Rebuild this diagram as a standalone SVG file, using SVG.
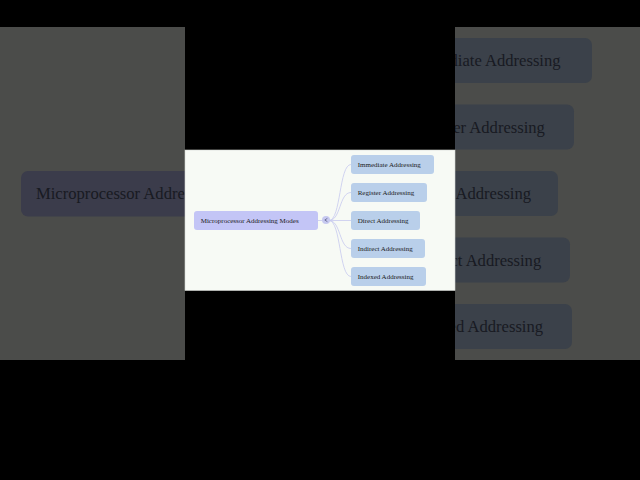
<svg xmlns="http://www.w3.org/2000/svg" width="640" height="480" viewBox="0 0 640 480">
<style>
  .txt{font-family:"Liberation Serif","Times New Roman",serif;fill:#1a1a1a;font-size:7px}
  .btxt{font-family:"Liberation Serif","Times New Roman",serif;fill:#181a22;font-size:16.6px}
  .child{fill:#b9cfea}
  .bchild{fill:#3b414a}
  .conn{fill:none;stroke:#c6c9ef;stroke-width:0.8}
</style>
<defs>
  <clipPath id="sides">
    <rect x="0" y="27" width="185" height="333"/>
    <rect x="455" y="27" width="185" height="333"/>
  </clipPath>
</defs>
<rect x="0" y="0" width="640" height="480" fill="#000"/>
<g id="backdrop" clip-path="url(#sides)">
  <rect x="0" y="27" width="640" height="333" fill="#4b4c4a"/>
  <rect x="21" y="171" width="294.5" height="45.5" rx="7" fill="#3b3c4b"/>
  <text class="btxt" x="36" y="198.5">Microprocessor Addressing Modes</text>
  <rect class="bchild" x="395" y="38" width="197" height="45" rx="7"/>
  <text class="btxt" x="410.8" y="66">Immediate Addressing</text>
  <rect class="bchild" x="395" y="104.5" width="179" height="45" rx="7"/>
  <text class="btxt" x="410.8" y="132.5">Register Addressing</text>
  <rect class="bchild" x="395" y="171" width="163" height="45" rx="7"/>
  <text class="btxt" x="410.8" y="199">Direct Addressing</text>
  <rect class="bchild" x="395" y="237.5" width="175" height="45" rx="7"/>
  <text class="btxt" x="410.8" y="265.5">Indirect Addressing</text>
  <rect class="bchild" x="395" y="304" width="177" height="45" rx="7"/>
  <text class="btxt" x="410.8" y="332">Indexed Addressing</text>
</g>
<rect id="panel" x="185" y="150" width="270" height="140.5" fill="#f7faf5" stroke="#d4d6d2" stroke-width="0.6"/>
<g id="connectors">
  <path class="conn" d="M318,220.5 L322,220.5"/>
  <path class="conn" d="M329,220.5 C341,220.5 339,164.5 351,164.5"/>
  <path class="conn" d="M329,220.5 C341,220.5 339,192.5 351,192.5"/>
  <path class="conn" d="M330,220.5 L351,220.5"/>
  <path class="conn" d="M329,220.5 C341,220.5 339,248.5 351,248.5"/>
  <path class="conn" d="M329,220.5 C341,220.5 339,276.5 351,276.5"/>
</g>
<g id="root">
  <rect x="194" y="211" width="124" height="19" rx="3" fill="#c3c5f6"/>
  <text class="txt" x="200.7" y="222.6">Microprocessor Addressing Modes</text>
</g>
<g id="toggle">
  <circle cx="326" cy="220" r="4" fill="#c7c9f0"/>
  <path d="M327.4,218.3 L324.8,220 L327.4,221.7" fill="none" stroke="#3a3c66" stroke-width="0.6"/>
</g>
<g id="immediate">
  <rect class="child" x="351" y="155" width="83" height="19" rx="3"/>
  <text class="txt" x="357.7" y="166.8">Immediate Addressing</text>
</g>
<g id="register">
  <rect class="child" x="351" y="183" width="76" height="19" rx="3"/>
  <text class="txt" x="357.7" y="194.8">Register Addressing</text>
</g>
<g id="direct">
  <rect class="child" x="351" y="211" width="69" height="19" rx="3"/>
  <text class="txt" x="357.7" y="222.8">Direct Addressing</text>
</g>
<g id="indirect">
  <rect class="child" x="351" y="239" width="74" height="19" rx="3"/>
  <text class="txt" x="357.7" y="250.8">Indirect Addressing</text>
</g>
<g id="indexed">
  <rect class="child" x="351" y="267" width="75" height="19" rx="3"/>
  <text class="txt" x="357.7" y="278.8">Indexed Addressing</text>
</g>
</svg>
